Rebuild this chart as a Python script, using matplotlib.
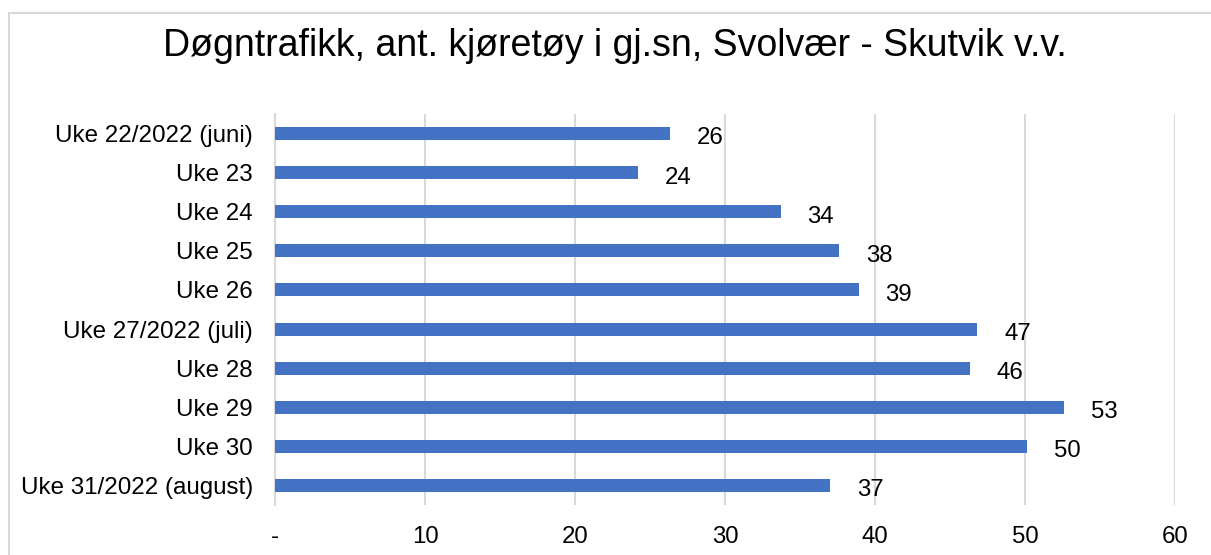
import matplotlib
matplotlib.use("Agg")
import matplotlib.pyplot as plt
from matplotlib.lines import Line2D

plt.rcParams["font.family"] = ["Liberation Sans", "DejaVu Sans"]

weeks = ["Uke 22/2022 (juni)", "Uke 23", "Uke 24", "Uke 25", "Uke 26",
         "Uke 27/2022 (juli)", "Uke 28", "Uke 29", "Uke 30", "Uke 31/2022 (august)"]
traffic = [26.3, 24.2, 33.7, 37.6, 38.9, 46.8, 46.3, 52.6, 50.1, 37.0]
x_ticks = [0, 10, 20, 30, 40, 50, 60]
x_tick_labels = ["-", "10", "20", "30", "40", "50", "60"]

W, H = 1211, 555
fig = plt.figure(figsize=(W / 100, H / 100), dpi=100)
fig.patch.set_facecolor("white")

# chart border (only top/left visible in the crop)
fig.add_artist(Line2D([9 / W, 1], [1 - 13 / H, 1 - 13 / H], color="#D9D9D9", lw=1.5))
fig.add_artist(Line2D([9 / W, 9 / W], [0, 1 - 13 / H], color="#D9D9D9", lw=1.5))

ax = fig.add_axes([275 / W, 50 / H, 900 / W, 391 / H])

y = list(range(len(weeks)))
ax.barh(y, traffic, height=0.33, color="#4472C4", zorder=3)

for yi, v in zip(y, traffic):
    ax.annotate(f"{round(v)}", xy=(v, yi), xytext=(19.5, -3.5), textcoords="offset points",
                ha="left", va="center", fontsize=17.3, color="#000000", zorder=4)

ax.set_xlim(0, 60)
ax.set_ylim(len(weeks) - 0.5, -0.5)
ax.set_yticks(y)
ax.set_yticklabels(weeks, fontsize=17.4)
ax.set_xticks(x_ticks)
ax.set_xticklabels(x_tick_labels, fontsize=17.3)
ax.tick_params(axis="y", length=0, pad=16)
ax.tick_params(axis="x", length=0, pad=15)

ax.grid(axis="x", color="#D9D9D9", linewidth=1.5, zorder=0)
for s in ["top", "right", "bottom"]:
    ax.spines[s].set_visible(False)
ax.spines["left"].set_color("#D9D9D9")
ax.spines["left"].set_linewidth(1.5)

fig.text(615 / W, 1 - 46 / H, "Døgntrafikk, ant. kjøretøy i gj.sn, Svolvær - Skutvik v.v.",
         ha="center", va="center", fontsize=27, color="#000000")

fig.savefig("out.png", dpi=100, facecolor=fig.get_facecolor())
